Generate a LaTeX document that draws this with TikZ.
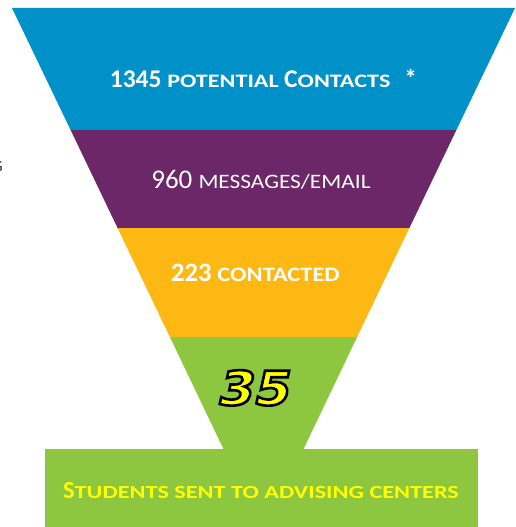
\documentclass[tikz,border=0pt]{standalone}
\usepackage{fontspec}
\setmainfont{Carlito}
\newfontfamily\scA{Carlito}[FakeStretch=1.27]
\newfontfamily\scB{Carlito}[FakeStretch=1.14]
\newfontfamily\scC{Carlito}[FakeStretch=1.19]
\newfontfamily\scD{Carlito}[FakeStretch=1.31]
\newfontfamily\numfont{DejaVu Sans}[FakeSlant=0.22,FakeStretch=1.1]
\definecolor{fblue}{RGB}{0,145,200}
\definecolor{fpurple}{RGB}{107,39,104}
\definecolor{forange}{RGB}{253,184,20}
\definecolor{fgreen}{RGB}{141,198,63}
\definecolor{fyellow}{RGB}{255,255,0}
\newcommand{\fs}[1]{\fontsize{#1}{#1}\selectfont}
\begin{document}
\begin{tikzpicture}[x=1pt,y=-1pt,
  band/.style={draw=none},
  lbl/.style={inner sep=0pt,anchor=base,text=white}]
\useasboundingbox (0,0) rectangle (515,527);
% funnel geometry: centre 263.5, half width 251.5 at y=8, shrinking 0.48 per unit
\coordinate (a1) at (12,8);     \coordinate (a2) at (515,8);
\coordinate (b1) at (70.6,130); \coordinate (b2) at (456.4,130);
\coordinate (c1) at (117.6,228);\coordinate (c2) at (409.4,228);
\coordinate (d1) at (169.9,337);\coordinate (d2) at (357.1,337);
\coordinate (e1) at (223.7,449.5);\coordinate (e2) at (303.3,449.5);
\fill[band,fblue] (a1) -- (a2) -- (b2) -- (b1) -- cycle;
\fill[band,fpurple] (b1) -- (b2) -- (c2) -- (c1) -- cycle;
\fill[band,forange] (c1) -- (c2) -- (d2) -- (d1) -- cycle;
\fill[band,fgreen] (d1) -- (d2) -- (e2) -- (e1) -- cycle;
\fill[band,fgreen] (45,449) rectangle (478,527);
% labels
\node[lbl,font=\bfseries] (t1) at (263.5,88)
  {\fs{25.5}1345 {\scA\fs{19}POTENTIAL }C{\scA\fs{19}ONTACTS}\hspace{0.55em}*};
\node[lbl] (t2) at (261,188)
  {\fs{27}960 {\scB\fs{20.5}MESSAGES/EMAIL}};
\node[lbl,font=\bfseries] (t3) at (255.5,281)
  {\fs{26.5}223 {\scC\fs{20.5}CONTACTED}};
\node[lbl,font=\bfseries,text=fyellow] (t4) at (261,498)
  {\fs{24.5}S{\scD\fs{18.5}TUDENTS SENT TO ADVISING CENTERS}};
\node[lbl,anchor=base east,text=black!85] (g) at (3,171) {\fs{16}G};
\node[lbl,text=fyellow] (n35) at (252,405)
  {\numfont\bfseries\fs{47}\special{pdf:literal 2 Tr 2.6 w 0 0 0 RG}35\special{pdf:literal 0 Tr 0.4 w}};
\end{tikzpicture}
\end{document}
